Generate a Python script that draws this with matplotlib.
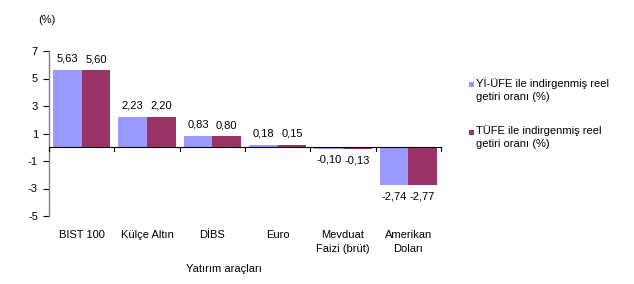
import matplotlib
matplotlib.use("Agg")
import matplotlib.pyplot as plt
from matplotlib.patches import Rectangle
from matplotlib.transforms import ScaledTranslation
import numpy as np

categories = ["BIST 100", "Külçe Altın", "DİBS", "Euro", "Mevduat\nFaizi (brüt)", "Amerikan\nDoları"]
yi_ufe = [5.63, 2.23, 0.83, 0.18, -0.10, -2.74]
tufe = [5.60, 2.20, 0.80, 0.15, -0.13, -2.77]
series_names = ["Yİ-ÜFE ile indirgenmiş reel\ngetiri oranı (%)", "TÜFE ile indirgenmiş reel\ngetiri oranı (%)"]
yticks = [-5, -3, -1, 1, 3, 5, 7]

plt.rcParams['font.family'] = ['Liberation Sans', 'DejaVu Sans']
FS = 8
W, H = 634, 284
fig = plt.figure(figsize=(W/100, H/100), dpi=100)
ax = fig.add_axes([49/W, 1-216/H, (441-49)/W, (216-51)/H])

x = np.arange(len(categories))
bw = 0.437
colors = ["#9999FF", "#993366"]
b1 = ax.bar(x - bw/2, yi_ufe, bw, color=colors[0])
b2 = ax.bar(x + bw/2, tufe, bw, color=colors[1])

def fmt(v):
    return f"{v:.2f}".replace(".", ",")

for bars, vals in ((b1, yi_ufe), (b2, tufe)):
    for r, v in zip(bars, vals):
        cx = r.get_x() + r.get_width()/2
        ax.annotate(fmt(v), (cx, v), xytext=(0, 4.5 if v >= 0 else -4.5), textcoords="offset points",
                    ha="center", va="bottom" if v >= 0 else "top", fontsize=FS)

ax.set_xlim(-0.5, len(categories) - 0.5)
ax.set_ylim(-5, 7)
ax.set_yticks(yticks)
ax.set_yticklabels([str(t) for t in yticks], fontsize=FS)
ax.tick_params(axis='y', length=4, width=0.8, pad=4)

for s in ["top", "right", "bottom"]:
    ax.spines[s].set_visible(False)
ax.spines["left"].set_color("#808080")
ax.spines["left"].set_linewidth(1.0)
ax.axhline(0, color="black", lw=0.8, zorder=3)
ax.set_xticks([])
for b in np.arange(-0.5, len(categories) + 0.5, 1.0):
    ax.plot([b, b], [0, -0.25], color="black", lw=0.8, clip_on=False, zorder=3)

shift = ScaledTranslation(0, -14/100, fig.dpi_scale_trans)
for i, c in enumerate(categories):
    ax.text(x[i], -5.0, c, transform=ax.transData + shift, ha="center", va="top",
            fontsize=FS, linespacing=1.5)

fig.text(224/W, 1-269/H, "Yatırım araçları", ha="center", va="center", fontsize=FS)
fig.text(47/W, 1-20/H, "(%)", ha="center", va="center", fontsize=FS)

# legend
leg_y = [82, 130]
for col, name, yy in zip(colors, series_names, leg_y):
    fig.patches.append(Rectangle((469/W, 1-(yy+5)/H), 5/W, 5/H, transform=fig.transFigure,
                                 facecolor=col, edgecolor="none"))
    fig.text(475.5/W, 1-(yy-5)/H, name, ha="left", va="top", fontsize=FS,
             linespacing=1.4)

fig.savefig("out.png", dpi=100)
